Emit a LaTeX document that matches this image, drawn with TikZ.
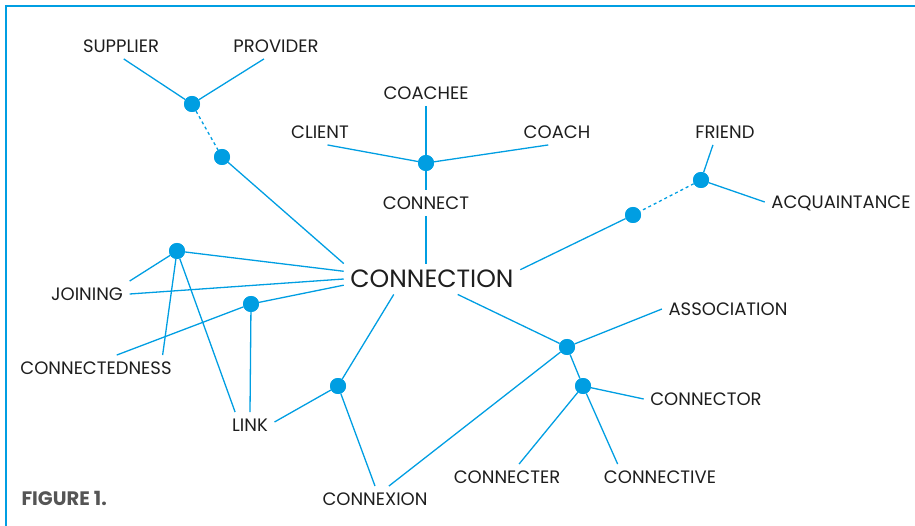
\documentclass[tikz,border=0pt]{standalone}
\usepackage{fontspec}
\setmainfont{Poppins}

\definecolor{netblue}{RGB}{0,158,226}
\definecolor{wordgray}{RGB}{30,30,30}
\definecolor{capgray}{RGB}{85,85,85}

\tikzset{
  word/.style={text=wordgray, font=\fontsize{18}{20}\selectfont,
    inner sep=6.5pt, text height=12.5pt, text depth=0pt},
  hub/.style={circle, fill=netblue, inner sep=0pt, minimum size=16pt},
  tie/.style={netblue, line width=1.3pt},
  tiedash/.style={tie, dash pattern=on 3pt off 3pt},
}

\begin{document}
\begin{tikzpicture}[x=1pt, y=-1pt]
\useasboundingbox (0,0) rectangle (915,526);

% Frame
\draw[netblue, line width=2pt] (6,526) -- (6,6) -- (915,6);

% Words
\node[word, font=\fontsize{25}{28}\selectfont, text height=17.5pt] (connection) at (432,279) {CONNECTION};
\node[word] (supplier) at (121,46) {SUPPLIER};
\node[word] (provider) at (276,46) {PROVIDER};
\node[word] (coachee) at (426,93) {COACHEE};
\node[word] (client) at (320,132) {CLIENT};
\node[word] (coach) at (557,132) {COACH};
\node[word] (connect) at (426,203) {CONNECT};
\node[word] (friend) at (725,132) {FRIEND};
\node[word] (acquaintance) at (841,202) {ACQUAINTANCE};
\node[word] (joining) at (87,294) {JOINING};
\node[word] (connectedness) at (96,368) {CONNECTEDNESS};
\node[word] (link) at (250,425) {LINK};
\node[word] (connexion) at (375,499) {CONNEXION};
\node[word] (association) at (728,309) {ASSOCIATION};
\node[word] (connector) at (706,399) {CONNECTOR};
\node[word] (connecter) at (507,477) {CONNECTER};
\node[word] (connective) at (660,477) {CONNECTIVE};

% Hubs
\node[hub] (supplyhub) at (192,104) {};
\node[hub] (supplymid) at (222,157) {};
\node[hub] (coachhub) at (426,163) {};
\node[hub] (friendhub) at (701,180) {};
\node[hub] (friendmid) at (633,215) {};
\node[hub] (joinhub) at (177,251) {};
\node[hub] (joinhub2) at (251,304) {};
\node[hub] (linkhub) at (338,386) {};
\node[hub] (assochub) at (567,347) {};
\node[hub] (torhub) at (583,386) {};

% Supplier branch
\draw[tie] (supplier.-78) -- (supplyhub);
\draw[tie] (provider.227) -- (supplyhub);
\draw[tiedash] (supplyhub) -- (supplymid);
\draw[tie] (supplymid) -- (connection.north west);

% Coaching branch
\draw[tie] (coachee.south) -- (coachhub);
\draw[tie] (client.-60) -- (coachhub);
\draw[tie] (coach.236) -- (coachhub);
\draw[tie] (coachhub) -- (connect.north);
\draw[tie] (connect.south) -- (connect.south |- connection.north);

% Friend branch
\draw[tie] (friend.227) -- (friendhub);
\draw[tie] (friendhub) -- (acquaintance.west);
\draw[tiedash] (friendhub) -- (friendmid);
\draw[tie] (friendmid) -- (connection.6);

% Joining and link branch
\draw[tie] (joinhub) -- (joining.north east);
\draw[tie] (joinhub) -- (connection.175);
\draw[tie] (joining.east) -- (connection.west);
\draw[tie] (joinhub) -- (connectedness.11);
\draw[tie] (joinhub) -- (link.139);
\draw[tie] (joinhub2) -- (connection.184);
\draw[tie] (joinhub2) -- (connectedness.32);
\draw[tie] (joinhub2) -- (link.north);
\draw[tie] (linkhub) -- (link.7);
\draw[tie] (linkhub) -- (connection.202);
\draw[tie] (linkhub) -- (connexion.north);

% Association branch
\draw[tie] (assochub) -- (connexion.43);
\draw[tie] (assochub) -- (connection.-31);
\draw[tie] (assochub) -- (association.west);
\draw[tie] (assochub) -- (torhub);
\draw[tie] (torhub) -- (connector.west);
\draw[tie] (torhub) -- (connecter.47);
\draw[tie] (torhub) -- (connective.163);

% Redraw hubs on top of the lines
\foreach \h in {supplyhub,supplymid,coachhub,friendhub,friendmid,joinhub,joinhub2,linkhub,assochub,torhub}
  \fill[netblue] (\h) circle (8pt);

% Caption
\node[anchor=west, text=capgray, font=\bfseries\fontsize{19.5}{22}\selectfont] (caption) at (18,498) {FIGURE 1.};
\end{tikzpicture}
\end{document}
